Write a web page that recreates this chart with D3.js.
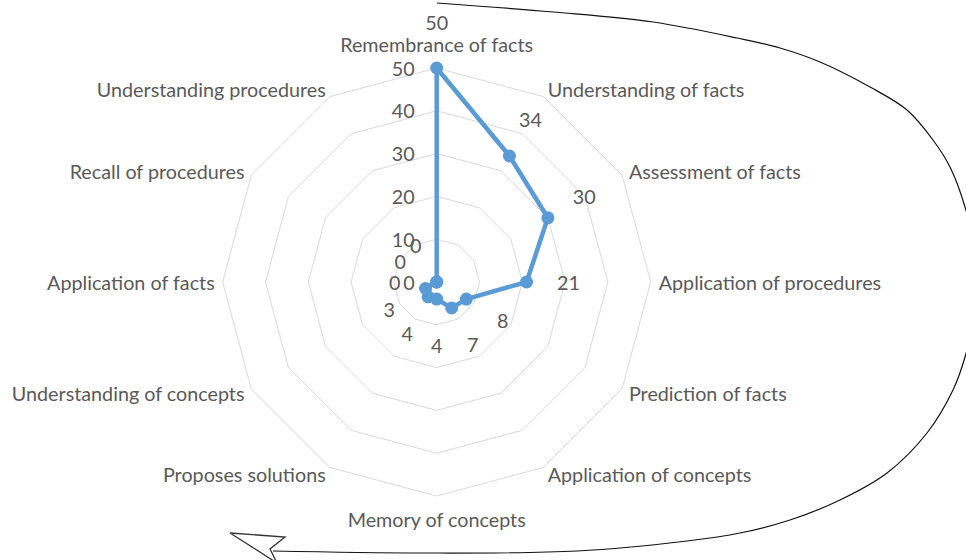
<!DOCTYPE html>
<html>
<head>
<meta charset="utf-8">
<script src="https://cdn.jsdelivr.net/npm/d3@7"></script>
<style>
  html, body { margin: 0; padding: 0; background: #fff; }
  svg { display: block; }
</style>
</head>
<body>
<svg id="chart" width="966" height="560"></svg>
<script>
// ---- data ----
const categories = [
  "Remembrance of facts", "Understanding of facts", "Assessment of facts",
  "Application of procedures", "Prediction of facts", "Application of concepts",
  "Memory of concepts", "Proposes solutions", "Understanding of concepts",
  "Application of facts", "Recall of procedures", "Understanding procedures"
];
const values = [50, 34, 30, 21, 8, 7, 4, 4, 3, 0, 0, 0];
const tickValues = [0, 10, 20, 30, 40, 50];
const gridValues = [10, 20, 30, 40, 50];

// decorative hand-drawn arrow annotation (outline path, not data)
const arrowCurve = [[437,3],[553,12],[653,22],[737,38],[780,48],[820,62],[870,87],[907,110],[933,140],[950,167],[965,207],[981,282],[965,357],[953,390],[927,433],[887,473],[840,500],[790,520],[740,533],[687,541],[577,551],[420,553],[273,551]];
const arrowHead = [[230,533],[285,537],[270,549],[277,563]];

// ---- layout ----
const W = 966, H = 560;
const cx = 436.7, cy = 282, R = 214;
const textColor = "#595959";
const font = "Lato, 'Open Sans', sans-serif";

const svg = d3.select("#chart");

// font size calibration so the long label has the reference width
const probe = svg.append("text").attr("font-family", font).attr("font-size", 18).text(categories[0]);
const w18 = probe.node().getComputedTextLength();
probe.remove();
const fs = Math.max(14, Math.min(20, 18 * 193 / w18));

const r = d3.scaleLinear().domain([0, 50]).range([0, R]);
const ang = d3.scaleLinear().domain([0, categories.length]).range([0, 2 * Math.PI]);

const g = svg.append("g").attr("transform", `translate(${cx},${cy})`);

// grid rings
const ringLine = d3.lineRadial()
  .angle((d, i) => ang(i))
  .radius(d => r(d))
  .curve(d3.curveLinearClosed);
g.selectAll("path.ring").data(gridValues).join("path")
  .attr("class", "ring")
  .attr("d", v => ringLine(categories.map(() => v)))
  .attr("fill", "none")
  .attr("stroke", "#d9d9d9")
  .attr("stroke-width", 1);

// axis tick labels
g.selectAll("text.tick").data(tickValues).join("text")
  .attr("class", "tick")
  .attr("x", -22)
  .attr("y", d => -r(d))
  .attr("text-anchor", "end")
  .attr("dominant-baseline", "central")
  .attr("font-family", font).attr("font-size", fs)
  .attr("fill", textColor)
  .text(d => d);

// category labels
g.selectAll("text.cat").data(categories).join("text")
  .attr("class", "cat")
  .each(function(d, i) {
    const a = ang(i);
    const s = Math.sin(a), c = Math.cos(a);
    const rr = R + 8;
    let x = rr * s, y = -rr * c;
    let anchor = "middle";
    if (s > 0.01) anchor = "start";
    else if (s < -0.01) anchor = "end";
    else y += (c > 0 ? -16 : 15);
    d3.select(this)
      .attr("x", x).attr("y", y)
      .attr("text-anchor", anchor)
      .attr("dominant-baseline", "central");
  })
  .attr("font-family", font).attr("font-size", fs)
  .attr("fill", textColor)
  .text(d => d);

// series line
const seriesLine = d3.lineRadial()
  .angle((d, i) => ang(i))
  .radius(d => r(d))
  .curve(d3.curveLinearClosed);
g.append("path")
  .attr("d", seriesLine(values))
  .attr("fill", "none")
  .attr("stroke", "#5b9bd5")
  .attr("stroke-width", 4.5)
  .attr("stroke-linejoin", "round");

// markers
g.selectAll("circle.pt").data(values).join("circle")
  .attr("class", "pt")
  .attr("cx", (d, i) => r(d) * Math.sin(ang(i)))
  .attr("cy", (d, i) => -r(d) * Math.cos(ang(i)))
  .attr("r", 6.5)
  .attr("fill", "#5b9bd5");

// data labels
g.selectAll("text.dl").data(values).join("text")
  .attr("class", "dl")
  .each(function(d, i) {
    const a = ang(i);
    const s = Math.sin(a), c = Math.cos(a);
    const off = Math.abs(c) > 0.99 ? 46 : 42;
    const rr = r(d) + off;
    d3.select(this).attr("x", rr * s).attr("y", -rr * c);
  })
  .attr("text-anchor", "middle")
  .attr("dominant-baseline", "central")
  .attr("font-family", font).attr("font-size", fs)
  .attr("fill", textColor)
  .text(d => d);

// arrow annotation
const curveGen = d3.line().curve(d3.curveCatmullRom.alpha(0.5));
svg.append("path")
  .attr("d", curveGen(arrowCurve))
  .attr("fill", "none")
  .attr("stroke", "#111")
  .attr("stroke-width", 1.2);
svg.append("path")
  .attr("d", d3.line()(arrowHead) + "Z")
  .attr("fill", "#fff")
  .attr("stroke", "#333")
  .attr("stroke-width", 1.3)
  .attr("stroke-linejoin", "miter");
</script>
</body>
</html>
